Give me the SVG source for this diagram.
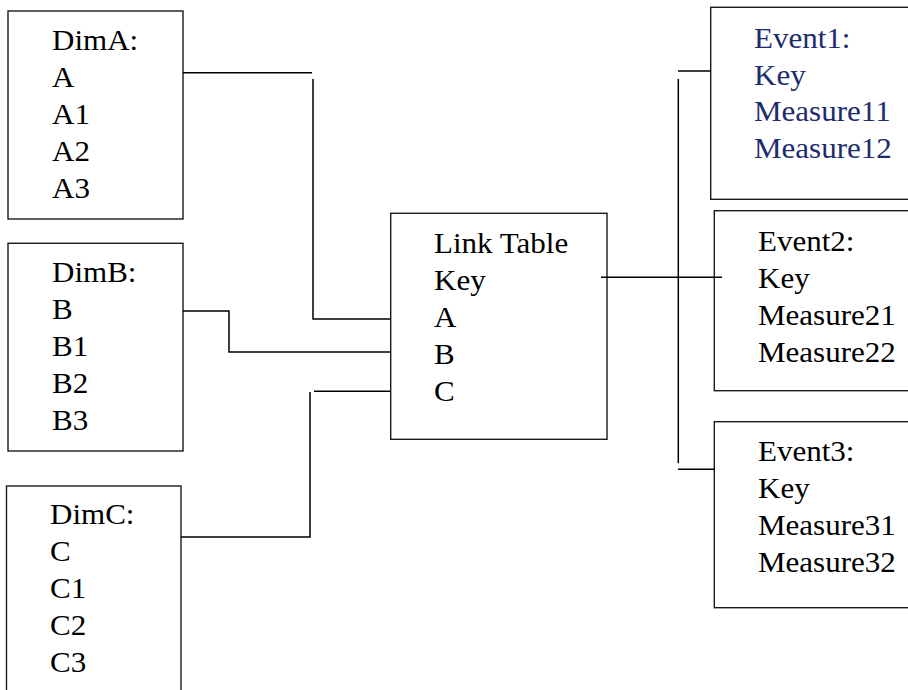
<svg xmlns="http://www.w3.org/2000/svg" width="908" height="690" viewBox="0 0 908 690">
<style>
.box{fill:#fff;stroke:#1a1a1a;stroke-width:1.4}
text{font-family:"Liberation Serif",serif;font-size:29px;fill:#000}
.blue{fill:#1c2c6e}
.c{fill:none;stroke:#000;stroke-width:1.5}
</style>
<rect width="908" height="690" fill="#fff"/>
<g id="dimA">
<rect class="box" x="8" y="11" width="175" height="208"/>
<g transform="translate(52 0) scale(1.07 1)" font-family="Liberation Serif">
<text x="0" y="50" font-family="Liberation Serif">DimA:</text>
<text x="0" y="87">A</text>
<text x="0" y="124">A1</text>
<text x="0" y="161">A2</text>
<text x="0" y="198">A3</text>
</g>
</g>
<g id="dimB">
<rect class="box" x="8" y="243.3" width="175" height="207.7"/>
<g transform="translate(52 0) scale(1.07 1)">
<text x="0" y="282">DimB:</text>
<text x="0" y="319">B</text>
<text x="0" y="356">B1</text>
<text x="0" y="393">B2</text>
<text x="0" y="430">B3</text>
</g>
</g>
<g id="dimC">
<rect class="box" x="6.5" y="486" width="174.5" height="220"/>
<g transform="translate(50 0) scale(1.07 1)">
<text x="0" y="524">DimC:</text>
<text x="0" y="561">C</text>
<text x="0" y="598">C1</text>
<text x="0" y="635">C2</text>
<text x="0" y="672">C3</text>
</g>
</g>
<g id="linkTable">
<rect class="box" x="390.7" y="213.3" width="216.3" height="226"/>
<g transform="translate(434 0) scale(1.07 1)">
<text x="0" y="253">Link Table</text>
<text x="0" y="290">Key</text>
<text x="0" y="327">A</text>
<text x="0" y="364">B</text>
<text x="0" y="401">C</text>
</g>
</g>
<g id="event1">
<rect class="box" x="710.7" y="7.3" width="220" height="192"/>
<g transform="translate(754 0) scale(1.07 1)">
<text class="blue" x="0" y="48">Event1:</text>
<text class="blue" x="0" y="85">Key</text>
<text class="blue" x="0" y="121">Measure11</text>
<text class="blue" x="0" y="158">Measure12</text>
</g>
</g>
<g id="event2">
<rect class="box" x="714.3" y="210.7" width="220" height="180"/>
<g transform="translate(758 0) scale(1.07 1)">
<text x="0" y="251">Event2:</text>
<text x="0" y="288">Key</text>
<text x="0" y="325">Measure21</text>
<text x="0" y="362">Measure22</text>
</g>
</g>
<g id="event3">
<rect class="box" x="714.3" y="421.7" width="220" height="186"/>
<g transform="translate(758 0) scale(1.07 1)">
<text x="0" y="461">Event3:</text>
<text x="0" y="498">Key</text>
<text x="0" y="535">Measure31</text>
<text x="0" y="572">Measure32</text>
</g>
</g>
<g id="connectors">
<path class="c" d="M183 72.7H312"/>
<path class="c" d="M313 79V319H390"/>
<path class="c" d="M183 311H229V352H390"/>
<path class="c" d="M181 537H310V392"/>
<path class="c" d="M314 391.3H390"/>
<path class="c" d="M601 277.3H722"/>
<path class="c" d="M678.3 79V463.3"/>
<path class="c" d="M678 71H711"/>
<path class="c" d="M678 469.3H714.3"/>
</g>
</svg>
